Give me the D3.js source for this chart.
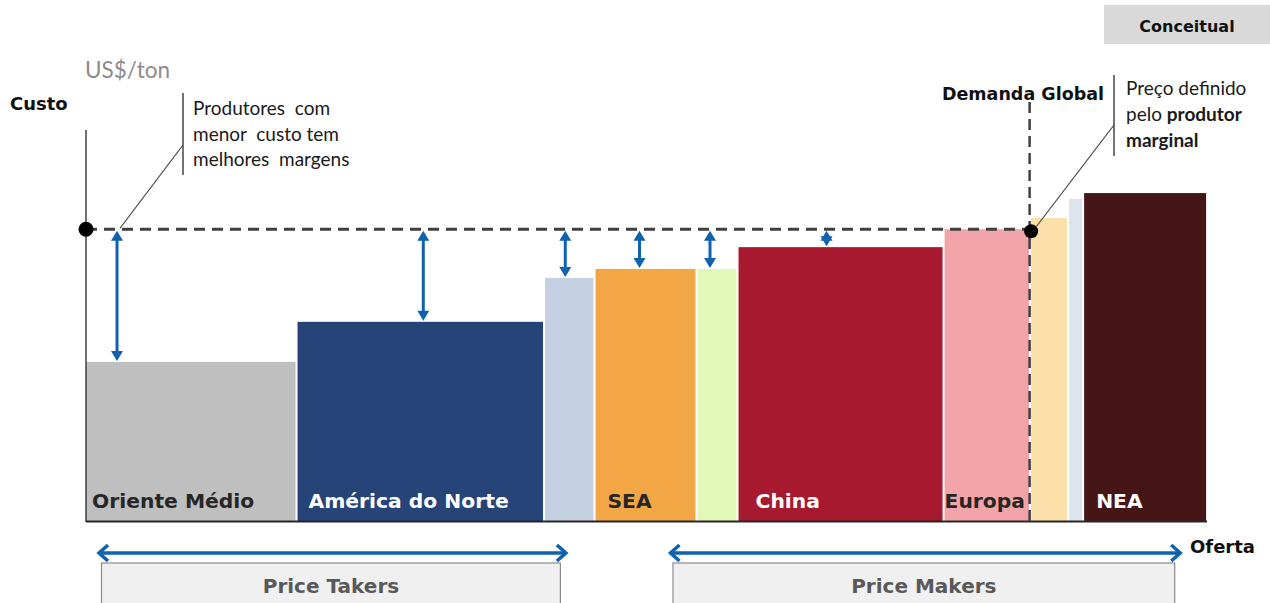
<!DOCTYPE html>
<html>
<head>
<meta charset="utf-8">
<script src="https://cdn.jsdelivr.net/npm/d3@7"></script>
<style>
  body { margin: 0; background: #fff; }
  svg text { white-space: pre; }
</style>
</head>
<body>
<svg id="chart" width="1270" height="603"></svg>
<script>
// supply curve (conceptual): capacity = width, cost = height
const regions = ["Oriente Médio", "América do Norte", "", "SEA", "", "China", "Europa", "", "", "NEA"];
const capacity = [18.78, 22.08, 4.50, 9.10, 3.66, 18.38, 7.72, 3.39, 1.34, 11.06];
const cost = [40.9, 51.2, 62.5, 64.8, 64.8, 70.4, 75.0, 77.9, 82.8, 84.3];
const barColors = ["#BFBFBF", "#264478", "#C5D0E2", "#F3A646", "#E3F7B6", "#A6192F", "#F3A4A8", "#FCE0AB", "#DDE4EE", "#461617"];
const darkLabel = [true, false, true, true, true, false, true, true, true, false];
const marginalPrice = 75;
const marginBars = [0, 1, 2, 3, 4, 5];
const groupLabels = ["Price Takers", "Price Makers"];
const groupSpans = [[1.07, 42.9], [52.05, 97.7]];

const svg = d3.select("#chart");
const blue = "#0F62B0";
const dark = "#404040";

const x = d3.scaleLinear().domain([0, 100]).range([86, 1207]);
const y = d3.scaleLinear().domain([0, 100]).range([521, 132]);

let acc = 0;
const bars = regions.map((r, i) => {
  const b = { name: r, x0: acc, x1: acc + capacity[i], cost: cost[i], color: barColors[i], dark: darkLabel[i], i };
  acc += capacity[i];
  return b;
});

// bars
svg.selectAll(".bar")
  .data(bars)
  .enter()
  .append("rect")
  .attr("class", "bar")
  .attr("x", d => x(d.x0) + (d.i === 0 ? 0 : 1))
  .attr("y", d => y(d.cost))
  .attr("width", d => x(d.x1) - x(d.x0) - (d.i === 0 ? 1 : 2))
  .attr("height", d => y(0) - y(d.cost))
  .attr("fill", d => d.color);

// bar labels
const labelPad = { "Oriente Médio": 6, "América do Norte": 12, "SEA": 13, "China": 18, "Europa": 1, "NEA": 13 };
svg.selectAll(".blabel")
  .data(bars.filter(d => d.name))
  .enter()
  .append("text")
  .attr("x", d => x(d.x0) + labelPad[d.name])
  .attr("y", 508)
  .attr("font-family", "DejaVu Sans")
  .attr("font-weight", "bold")
  .attr("font-size", "20.3px")
  .attr("fill", d => d.dark ? "#262626" : "#fff")
  .text(d => d.name);

// axes lines
svg.append("line")
  .attr("x1", x(0)).attr("x2", x(0))
  .attr("y1", y(100.5)).attr("y2", y(0) + 1)
  .attr("stroke", dark).attr("stroke-width", 1.5);
svg.append("line")
  .attr("x1", x(0)).attr("x2", x(100))
  .attr("y1", y(0) + 0.5).attr("y2", y(0) + 0.5)
  .attr("stroke", "#262626").attr("stroke-width", 2);

// marginal price line + demand line
const demandX = x(d3.sum(capacity.slice(0, 7))) - 0.5;
svg.append("line")
  .attr("x1", x(0)).attr("x2", demandX)
  .attr("y1", y(marginalPrice)).attr("y2", y(marginalPrice))
  .attr("stroke", dark).attr("stroke-width", 3).attr("stroke-dasharray", "11,7");
svg.append("line")
  .attr("x1", demandX).attr("x2", demandX)
  .attr("y1", 102).attr("y2", y(0))
  .attr("stroke", dark).attr("stroke-width", 2.5).attr("stroke-dasharray", "11,6");

// margin arrows (vertical, double headed)
function vArrow(cx, yTop, yBot) {
  const g = svg.append("g").attr("fill", blue);
  const hw = 6, hh = 10;
  g.append("line")
    .attr("x1", cx).attr("x2", cx)
    .attr("y1", yTop + hh - 1).attr("y2", yBot - hh + 1)
    .attr("stroke", blue).attr("stroke-width", 3);
  g.append("path").attr("d", `M${cx},${yTop} L${cx - hw},${yTop + hh} L${cx + hw},${yTop + hh} Z`);
  g.append("path").attr("d", `M${cx},${yBot} L${cx - hw},${yBot - hh} L${cx + hw},${yBot - hh} Z`);
}
const arrowShift = [0, 3, -4, -6, -7, -14];
marginBars.forEach((i, k) => {
  const b = bars[i];
  const cx = i === 0 ? x(b.x0) + 31 : (x(b.x0) + x(b.x1)) / 2 + arrowShift[k];
  vArrow(cx, y(marginalPrice) + 1.5, y(b.cost) - 1);
});

// dots
svg.append("circle").attr("cx", x(0)).attr("cy", y(marginalPrice)).attr("r", 7.5).attr("fill", "#000");
svg.append("circle").attr("cx", demandX + 1.5).attr("cy", y(marginalPrice) + 2).attr("r", 7).attr("fill", "#000");

// callouts
const calloutFont = "Lato";
svg.append("line").attr("x1", 120).attr("y1", y(marginalPrice) - 1).attr("x2", 183).attr("y2", 145)
  .attr("stroke", "#444").attr("stroke-width", 1.2);
svg.append("line").attr("x1", 183).attr("x2", 183).attr("y1", 93).attr("y2", 175)
  .attr("stroke", "#444").attr("stroke-width", 1.5);
["Produtores  com", "menor  custo tem", "melhores  margens"].forEach((t, i) => {
  svg.append("text").attr("x", 193).attr("y", 115 + i * 25.5)
    .attr("font-family", calloutFont).attr("font-size", "19px").attr("fill", "#1a1a1a").text(t);
});

svg.append("line").attr("x1", demandX + 7).attr("y1", y(marginalPrice) - 3).attr("x2", 1114).attr("y2", 125)
  .attr("stroke", "#444").attr("stroke-width", 1.2);
svg.append("line").attr("x1", 1114).attr("x2", 1114).attr("y1", 75).attr("y2", 156)
  .attr("stroke", "#444").attr("stroke-width", 1.5);
svg.append("text").attr("x", 1126).attr("y", 95)
  .attr("font-family", calloutFont).attr("font-size", "19px").attr("fill", "#1a1a1a")
  .text("Preço definido");
const r2 = svg.append("text").attr("x", 1126).attr("y", 121)
  .attr("font-family", calloutFont).attr("font-size", "19px").attr("fill", "#1a1a1a");
r2.append("tspan").text("pelo ");
r2.append("tspan").attr("font-weight", "bold").text("produtor");
svg.append("text").attr("x", 1126).attr("y", 147)
  .attr("font-family", calloutFont).attr("font-size", "19px").attr("font-weight", "bold").attr("fill", "#1a1a1a")
  .text("marginal");

// titles
svg.append("text").attr("x", 10).attr("y", 110)
  .attr("font-family", "DejaVu Sans").attr("font-weight", "bold").attr("font-size", "18px")
  .attr("fill", "#111").text("Custo");
svg.append("text").attr("x", 85).attr("y", 78)
  .attr("font-family", calloutFont).attr("font-size", "22.5px").attr("fill", "#8C8C8C").text("US$/ton");
svg.append("text").attr("x", 1104).attr("y", 100).attr("text-anchor", "end")
  .attr("font-family", "DejaVu Sans").attr("font-weight", "bold").attr("font-size", "17.5px")
  .attr("fill", "#111").text("Demanda Global");
svg.append("text").attr("x", 1190).attr("y", 553)
  .attr("font-family", "DejaVu Sans").attr("font-weight", "bold").attr("font-size", "18px")
  .attr("fill", "#111").text("Oferta");

// conceitual tag
svg.append("rect").attr("x", 1104).attr("y", 5).attr("width", 166).attr("height", 39).attr("fill", "#D9D9D9");
svg.append("text").attr("x", 1187).attr("y", 32).attr("text-anchor", "middle")
  .attr("font-family", "DejaVu Sans").attr("font-weight", "bold").attr("font-size", "16px")
  .attr("fill", "#111").text("Conceitual");

// group arrows and boxes
function hArrow(xa, xb, yy) {
  const g = svg.append("g").attr("stroke", blue).attr("stroke-width", 3.5).attr("fill", "none");
  g.append("line").attr("x1", xa + 1).attr("x2", xb - 1).attr("y1", yy).attr("y2", yy);
  g.append("path").attr("d", `M${xa + 10},${yy - 8} L${xa + 1},${yy} L${xa + 10},${yy + 8}`);
  g.append("path").attr("d", `M${xb - 10},${yy - 8} L${xb - 1},${yy} L${xb - 10},${yy + 8}`);
}
groupLabels.forEach((lab, i) => {
  const xa = x(groupSpans[i][0]), xb = x(groupSpans[i][1]);
  svg.append("rect").attr("x", xa + 3.5).attr("y", 563).attr("width", xb - xa - 10).attr("height", 45)
    .attr("fill", "#F0F0F0").attr("stroke", "#8C8C8C").attr("stroke-width", 1.2);
  hArrow(xa, xb, 553);
  svg.append("text").attr("x", (xa + 3.5 + xb - 6.5) / 2).attr("y", 593).attr("text-anchor", "middle")
    .attr("font-family", "DejaVu Sans").attr("font-weight", "bold").attr("font-size", "20px")
    .attr("fill", "#595959").text(lab);
});
</script>
</body>
</html>
